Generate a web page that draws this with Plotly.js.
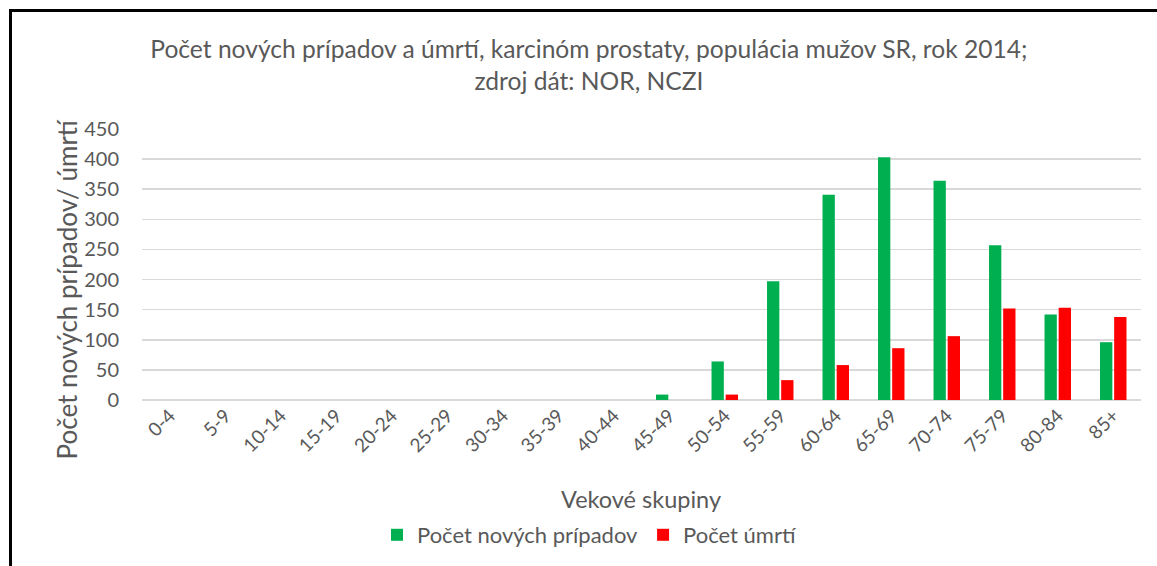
<!DOCTYPE html>
<html>
<head>
<meta charset="utf-8">
<script src="https://cdn.plot.ly/plotly-3.0.1.min.js"></script>
<style>
html, body { margin: 0; padding: 0; background: #fff; }
#wrap { position: relative; width: 1157px; height: 566px; overflow: hidden; }
#chart { position: absolute; left: 0; top: 0; width: 1157px; height: 566px; }
#frame { position: absolute; left: 9px; top: 9px; width: 1160px; height: 580px;
  border-left: 3px solid #000; border-top: 3px solid #000; pointer-events: none; }
</style>
</head>
<body>
<div id="wrap">
  <div id="chart"></div>
  <div id="frame"></div>
</div>
<script>
const categories = ["0-4","5-9","10-14","15-19","20-24","25-29","30-34","35-39","40-44","45-49","50-54","55-59","60-64","65-69","70-74","75-79","80-84","85+"];
const newCases = [0,0,0,0,0,0,0,0,0,9,64,197,341,403,364,257,142,96];
const deaths   = [0,0,0,0,0,0,0,0,0,0,9,33,58,86,106,152,153,138];
const seriesNames = ["Počet nových prípadov", "Počet úmrtí"];
const titleText = "Počet nových prípadov a úmrtí, karcinóm prostaty, populácia mužov SR, rok 2014;<br>zdroj dát: NOR, NCZI";
const xTitle = "Vekové skupiny";
const yTitle = "Počet nových prípadov/ úmrtí";

const FONT = "Lato, 'Open Sans', sans-serif";
const GRAY = "#595959";

const traces = [
  { type: "bar", name: seriesNames[0], x: categories, y: newCases,
    marker: { color: "#00B050" }, hoverinfo: "x+y" },
  { type: "bar", name: seriesNames[1], x: categories, y: deaths,
    marker: { color: "#FF0000" }, hoverinfo: "x+y" }
];

const layout = {
  width: 1157, height: 566,
  paper_bgcolor: "rgba(0,0,0,0)", plot_bgcolor: "#fff",
  margin: { l: 142, r: 16, t: 129, b: 165, pad: 0 },
  font: { family: FONT, color: GRAY, size: 18 },
  title: { text: titleText, x: 0.509, xref: "container", xanchor: "center",
    y: 1 - 58 / 566, yref: "container", yanchor: "middle",
    font: { family: FONT, size: 24.6, color: GRAY } },
  barmode: "group", bargap: 0.49, bargroupgap: 0.13,
  xaxis: {
    type: "category", tickangle: -45, showgrid: false, showline: false,
    ticks: "", tickfont: { size: 19, color: GRAY }, automargin: false
  },
  yaxis: {
    range: [0, 450], dtick: 50, showgrid: true, gridcolor: "#d9d9d9", gridwidth: 1.5,
    zeroline: true, zerolinecolor: "#d9d9d9", zerolinewidth: 1.5,
    showline: false, ticks: "", ticklabelstandoff: 22, automargin: false,
    tickfont: { size: 20, color: GRAY }
  },
  annotations: [
    { text: yTitle, xref: "paper", yref: "paper", x: (67 - 142) / 999, y: (401 - 290) / 272,
      xanchor: "center", yanchor: "middle", textangle: -90, showarrow: false,
      font: { size: 26, color: GRAY } },
    { text: xTitle, xref: "paper", yref: "paper", x: (641 - 142) / 999, y: (401 - 500) / 272,
      xanchor: "center", yanchor: "middle", showarrow: false,
      font: { size: 23.5, color: GRAY } }
  ],
  showlegend: true,
  legend: { orientation: "h", x: (377 - 142) / 999, xanchor: "left", y: (401 - 535) / 272, yanchor: "middle",
    font: { size: 22, color: GRAY }, itemwidth: 30, traceorder: "normal" }
};

Plotly.newPlot("chart", traces, layout, { displayModeBar: false, staticPlot: true });
</script>
</body>
</html>
